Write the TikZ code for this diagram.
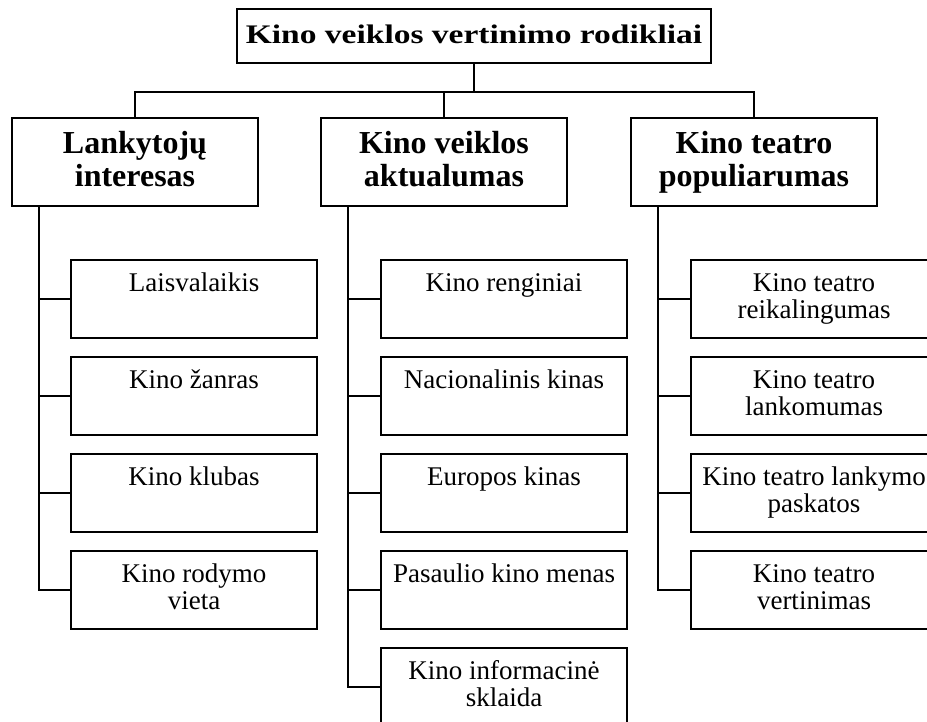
\documentclass[tikz,border=0pt]{standalone}
\usepackage{fontspec}
\setmainfont{Liberation Serif}
\newfontfamily\titlefont[FakeStretch=1.25]{Liberation Serif}
\usetikzlibrary{calc}
\tikzset{
  box/.style={draw, line width=2.4pt, inner sep=0pt, rectangle},
  tbox/.style={box, minimum width=474pt, minimum height=54pt},
  hbox/.style={box, minimum width=246pt, minimum height=88pt},
  cbox/.style={box, minimum width=246pt, minimum height=78pt},
  ttext/.style={inner sep=0pt, align=center, anchor=north, font=\titlefont\bfseries\fontsize{26.8}{30}\selectfont},
  htext/.style={inner sep=0pt, align=center, anchor=north, font=\bfseries\fontsize{32}{33}\selectfont},
  ctext/.style={inner sep=0pt, align=center, anchor=north, font=\fontsize{27}{27}\selectfont},
  conn/.style={line width=2.4pt},
}
\begin{document}
\begin{tikzpicture}[x=1pt,y=-1pt]
\path[use as bounding box] (0,0) rectangle (927,722);
\clip (0,0) rectangle (927,722);

% title
\node[tbox] (T) at (474,36) {};
\node[ttext] (Tt) at ($(T.north)+(0,15)$) {\strut Kino veiklos vertinimo rodikliai};

% level 1
\node[hbox] (A) at (135,162) {};
\node[hbox] (B) at (444,162) {};
\node[hbox] (C) at (754,162) {};
\node[htext] (At) at ($(A.north)+(0,13.9)$) {\strut Lankytojų\\\strut interesas};
\node[htext] (Bt) at ($(B.north)+(0,13.9)$) {\strut Kino veiklos\\\strut aktualumas};
\node[htext] (Ct) at ($(C.north)+(0,13.9)$) {\strut Kino teatro\\\strut populiarumas};

\coordinate (bar) at ($(T.south)+(0,28)$);
\draw[conn] (T.south) -- (bar);
\draw[conn] (A.north) |- (bar) -| (C.north);
\draw[conn] (B.north) -- (B.north |- bar);

% column A
\node[cbox] (a1) at (194,299) {};
\node[cbox] (a2) at (194,396) {};
\node[cbox] (a3) at (194,493) {};
\node[cbox] (a4) at (194,590) {};
\node[ctext] (a1t) at ($(a1.north)+(0,13.5)$) {\strut Laisvalaikis};
\node[ctext] (a2t) at ($(a2.north)+(0,13.5)$) {\strut Kino žanras};
\node[ctext] (a3t) at ($(a3.north)+(0,13.5)$) {\strut Kino klubas};
\node[ctext] (a4t) at ($(a4.north)+(0,13.5)$) {\strut Kino rodymo\\\strut vieta};
\coordinate (sA) at ($(A.south west)+(28,0)$);
\foreach \n in {a1,a2,a3,a4} \draw[conn] (sA) |- (\n.west);

% column B
\node[cbox] (b1) at (504,299) {};
\node[cbox] (b2) at (504,396) {};
\node[cbox] (b3) at (504,493) {};
\node[cbox] (b4) at (504,590) {};
\node[cbox] (b5) at (504,687) {};
\node[ctext] (b1t) at ($(b1.north)+(0,13.5)$) {\strut Kino renginiai};
\node[ctext] (b2t) at ($(b2.north)+(0,13.5)$) {\strut Nacionalinis kinas};
\node[ctext] (b3t) at ($(b3.north)+(0,13.5)$) {\strut Europos kinas};
\node[ctext] (b4t) at ($(b4.north)+(0,13.5)$) {\strut Pasaulio kino menas};
\node[ctext] (b5t) at ($(b5.north)+(0,13.5)$) {\strut Kino informacinė\\\strut sklaida};
\coordinate (sB) at ($(B.south west)+(28,0)$);
\foreach \n in {b1,b2,b3,b4,b5} \draw[conn] (sB) |- (\n.west);

% column C
\node[cbox] (c1) at (814,299) {};
\node[cbox] (c2) at (814,396) {};
\node[cbox] (c3) at (814,493) {};
\node[cbox] (c4) at (814,590) {};
\node[ctext] (c1t) at ($(c1.north)+(0,13.5)$) {\strut Kino teatro\\\strut reikalingumas};
\node[ctext] (c2t) at ($(c2.north)+(0,13.5)$) {\strut Kino teatro\\\strut lankomumas};
\node[ctext] (c3t) at ($(c3.north)+(0,13.5)$) {\strut Kino teatro lankymo\\\strut paskatos};
\node[ctext] (c4t) at ($(c4.north)+(0,13.5)$) {\strut Kino teatro\\\strut vertinimas};
\coordinate (sC) at ($(C.south west)+(28,0)$);
\foreach \n in {c1,c2,c3,c4} \draw[conn] (sC) |- (\n.west);
\end{tikzpicture}
\end{document}
